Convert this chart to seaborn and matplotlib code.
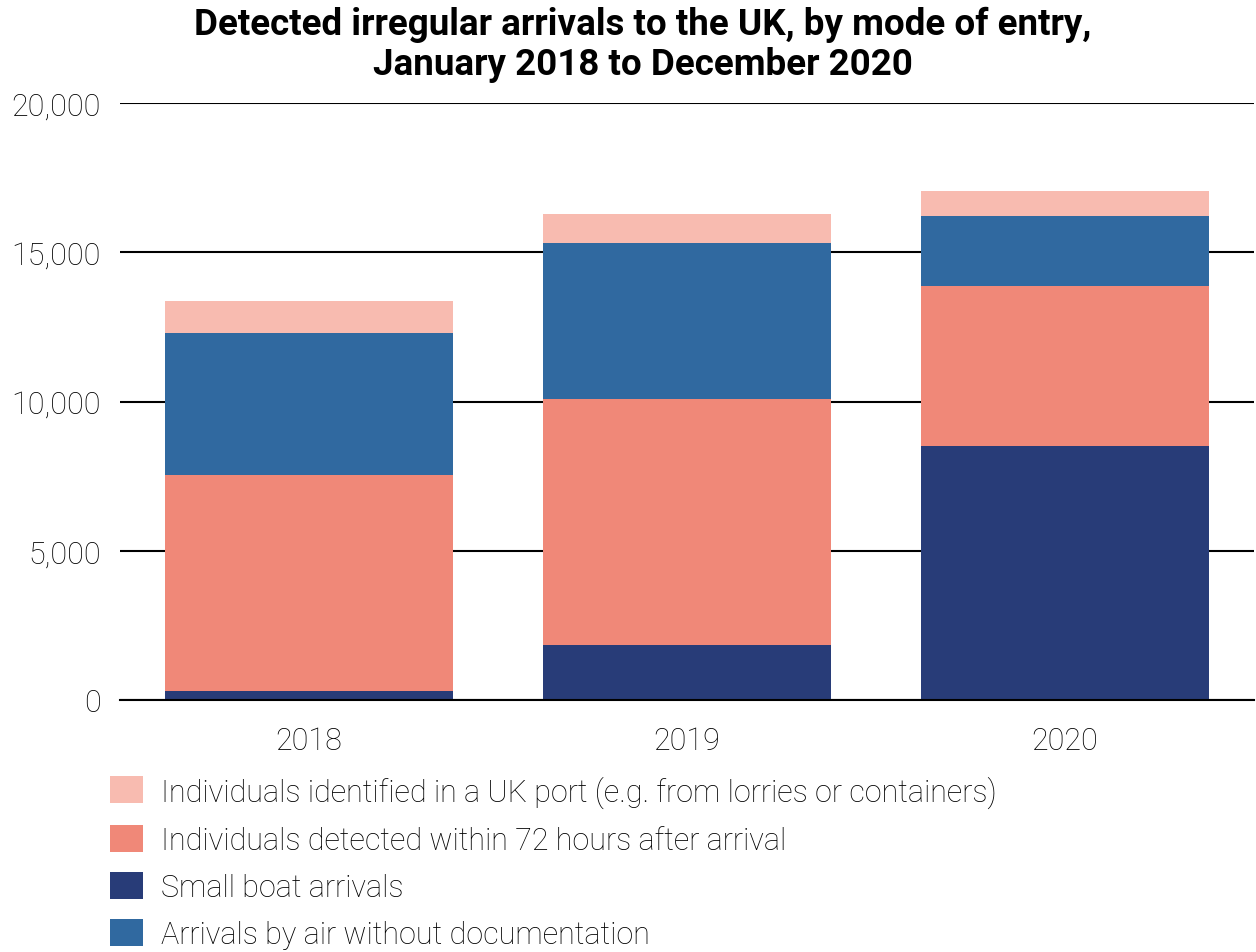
import pandas as pd
import matplotlib
matplotlib.use('Agg')
import matplotlib.pyplot as plt
import seaborn as sns
from matplotlib.patches import Patch

# data
years = ['2018', '2019', '2020']
small_boat = [300, 1840, 8510]
within_72h = [7240, 8240, 5360]
air_no_docs = [4760, 5230, 2350]
uk_port = [1070, 970, 840]

series_names = [
    'Small boat arrivals',
    'Individuals detected within 72 hours after arrival',
    'Arrivals by air without documentation',
    'Individuals identified in a UK port (e.g. from lorries or containers)',
]
series_values = [small_boat, within_72h, air_no_docs, uk_port]
colors = ['#283C78', '#F08878', '#3069A0', '#F8BBB0']

sns.set_theme(style='white')
plt.rcParams['font.family'] = ['Roboto', 'DejaVu Sans']

fig = plt.figure(figsize=(12.56, 9.53), dpi=100)
ax = fig.add_axes([120 / 1256, 1 - 701 / 953, (1254 - 120) / 1256, (701 - 104) / 953])

# stacked bars, bottom series first
bottom = [0, 0, 0]
for name, vals, col in zip(series_names, series_values, colors):
    df = pd.DataFrame({'year': years, 'value': vals})
    sns.barplot(data=df, x='year', y='value', color=col, bottom=bottom,
                width=0.762, ax=ax, zorder=2, saturation=1, linewidth=0,
                edgecolor='none')
    bottom = [b + v for b, v in zip(bottom, vals)]

ax.set_ylim(0, 20000)
ax.set_xlim(-0.5, 2.5)
ax.set_yticks([0, 5000, 10000, 15000, 20000])
ax.set_yticklabels(['0', '5,000', '10,000', '15,000', '20,000'])
ax.yaxis.grid(True, color='black', linewidth=1.5, zorder=0)
ax.set_axisbelow(True)
for s in ['top', 'right', 'left']:
    ax.spines[s].set_visible(False)
ax.spines['bottom'].set_color('black')
ax.spines['bottom'].set_linewidth(1.5)
ax.spines['bottom'].set_zorder(5)
ax.tick_params(axis='y', length=0, pad=14, labelsize=22, labelcolor='black')
ax.tick_params(axis='x', length=0, pad=19, labelsize=22, labelcolor='black')
for t in ax.get_yticklabels() + ax.get_xticklabels():
    t.set_fontweight('light')
ax.set_xlabel('')
ax.set_ylabel('')

fig.text(643 / 1256, 1 - 45 / 953,
         'Detected irregular arrivals to the UK, by mode of entry,\nJanuary 2018 to December 2020',
         ha='center', va='center', fontsize=26.5, fontweight='bold', linespacing=1.12,
         color='black')

# legend order as in the reference
order = [3, 1, 0, 2]
handles = [Patch(facecolor=colors[i], edgecolor='none') for i in order]
labels = [series_names[i] for i in order]
leg = fig.legend(handles, labels, loc='upper left', bbox_to_anchor=(98 / 1256, 1 - 764 / 953),
                 frameon=False, handlelength=1.08, handleheight=1.0,
                 handletextpad=0.59, labelspacing=0.56, borderaxespad=0,
                 prop={'weight': 'light', 'size': 22})
for t in leg.get_texts():
    t.set_color('black')

fig.savefig('out.png', dpi=100)
